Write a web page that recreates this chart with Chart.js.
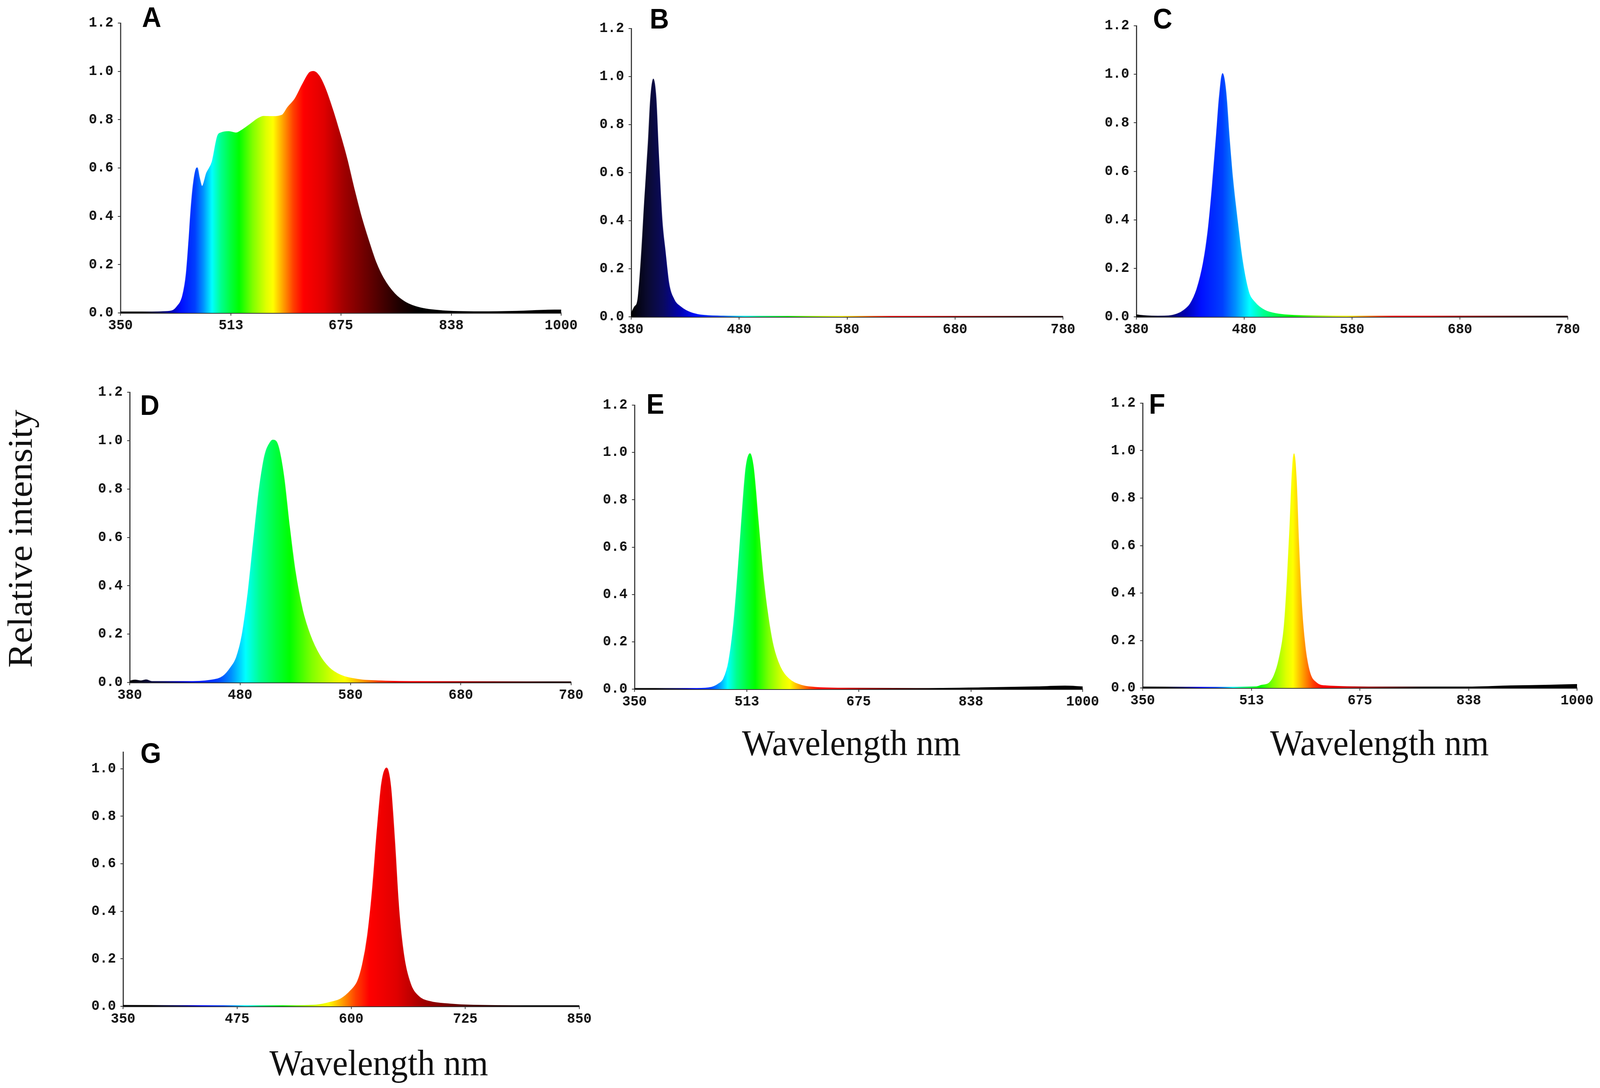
<!DOCTYPE html>
<html>
<head>
<meta charset="utf-8">
<script src="https://cdn.jsdelivr.net/npm/chart.js@4.4.1/dist/chart.umd.min.js"></script>
<style>
  html, body { margin: 0; padding: 0; background: #fff; overflow: hidden; }
  #page { position: absolute; left: 0; top: 0; width: 4317px; height: 2785px; background: #fff; transform-origin: 0 0; }
  canvas { position: absolute; }
  .tag { position: absolute; font: bold 72px "Liberation Sans", Arial, sans-serif; line-height: 1; color: #000; }
  .axt { position: absolute; font: 94px "Liberation Serif", "Times New Roman", serif; line-height: 1; color: #111; white-space: nowrap; }
</style>
</head>
<body>
<div id="page">
<div class="axt" style="left:53px; top:1379px; transform: translate(-50%,-50%) rotate(-90deg);">Relative intensity</div>
<div class="axt" style="left:2297px; top:1854px; transform: translateX(-50%);">Wavelength nm</div>
<div class="axt" style="left:3722px; top:1854px; transform: translateX(-50%);">Wavelength nm</div>
<div class="axt" style="left:1022px; top:2673px; transform: translateX(-50%);">Wavelength nm</div>
</div>

<script>
// tick values
const yTicks = [0, 0.2, 0.4, 0.6, 0.8, 1.0, 1.2]
const yTicksG = [0, 0.2, 0.4, 0.6, 0.8, 1.0]
const xTicksWide = [350, 513, 675, 838, 1000]
const xTicksVis = [380, 480, 580, 680, 780]
const xTicksG = [350, 475, 600, 725, 850]

// A - white light
const wlA = [350, 380, 410, 425, 433, 441.6, 447, 450.8, 454.1, 457.9, 461.7, 463.3, 466, 470.4, 477, 485, 493.3, 498.7, 509.6, 520.5, 528.6, 542.2, 553, 561, 574.7, 588.4, 596.6, 607.5, 618.4, 629.3, 634.7, 642.9, 651, 661.9, 672.8, 683.7, 694.5, 705.4, 716.3, 727.2, 738, 754.3, 770.6, 792.3, 825, 880, 935, 990, 1000]
const intA = [0.004, 0.004, 0.005, 0.008, 0.025, 0.071, 0.161, 0.297, 0.434, 0.542, 0.597, 0.601, 0.565, 0.524, 0.579, 0.624, 0.733, 0.746, 0.751, 0.745, 0.756, 0.783, 0.805, 0.814, 0.813, 0.819, 0.851, 0.887, 0.946, 0.996, 1.0, 0.982, 0.937, 0.851, 0.751, 0.642, 0.515, 0.397, 0.297, 0.207, 0.143, 0.080, 0.044, 0.021, 0.009, 0.005, 0.007, 0.012, 0.012]

// B - violet
const wlB = [380, 383, 386, 389, 392.6, 395.8, 398, 400.5, 403, 405.3, 408.5, 411.6, 414.8, 419.6, 426, 435, 448, 470, 520, 600, 700, 780]
const intB = [0.014, 0.041, 0.068, 0.224, 0.497, 0.725, 0.908, 0.99, 0.908, 0.68, 0.406, 0.269, 0.141, 0.073, 0.041, 0.018, 0.006, 0.003, 0.002, 0.002, 0.002, 0.002]

// C - blue
const wlC = [380, 390, 400, 410, 418, 424, 430, 436, 442, 446.5, 450.4, 454, 457, 460, 463, 466, 469, 473.5, 478, 484, 490, 499, 511, 535, 600, 700, 780]
const intC = [0.008, 0.004, 0.003, 0.004, 0.012, 0.027, 0.054, 0.113, 0.221, 0.357, 0.538, 0.737, 0.909, 1.003, 0.927, 0.746, 0.583, 0.402, 0.24, 0.104, 0.059, 0.027, 0.012, 0.005, 0.003, 0.003, 0.003]

// D - green
const wlD = [380, 385, 390, 395, 400, 434, 454, 464.6, 471.5, 476.6, 481.8, 486.9, 492, 497.2, 502.3, 507.5, 509.9, 514.4, 519.5, 524.6, 529.8, 536.6, 543.5, 552, 560.6, 570.9, 588, 605, 640, 740, 780]
const intD = [0.006, 0.01, 0.007, 0.011, 0.004, 0.004, 0.01, 0.026, 0.062, 0.103, 0.196, 0.361, 0.577, 0.793, 0.937, 0.994, 1.002, 0.979, 0.855, 0.649, 0.464, 0.299, 0.196, 0.113, 0.062, 0.031, 0.012, 0.007, 0.004, 0.003, 0.003]

// E - green
const wlE = [350, 400, 440, 461.8, 471.8, 479.2, 486.6, 494, 500.5, 506.5, 511.6, 517.5, 522.5, 529, 536.4, 543.9, 551.3, 561.3, 573.7, 591, 611, 660, 760, 860, 934, 974, 1000]
const intE = [0.003, 0.003, 0.003, 0.008, 0.022, 0.044, 0.116, 0.282, 0.514, 0.758, 0.935, 0.995, 0.935, 0.724, 0.481, 0.304, 0.182, 0.094, 0.044, 0.017, 0.008, 0.004, 0.003, 0.006, 0.01, 0.013, 0.01]

// F - yellow
const wlF = [350, 450, 520, 527.5, 539.7, 547, 554, 561.6, 566.3, 570.2, 573.5, 576.5, 580, 583.3, 588, 593, 600, 610, 624.5, 700, 830, 900, 960, 1000]
const intF = [0.004, 0.003, 0.005, 0.011, 0.022, 0.055, 0.121, 0.254, 0.452, 0.673, 0.893, 0.987, 0.871, 0.618, 0.342, 0.176, 0.066, 0.022, 0.009, 0.004, 0.004, 0.009, 0.012, 0.015]

// G - red
const wlG = [350, 450, 540, 563, 578, 588.8, 599.6, 607, 612.3, 617.7, 623.2, 628.7, 633.4, 638.8, 643.2, 647.5, 652.2, 657.7, 664.9, 674, 686.7, 708.4, 734, 800, 850]
const intG = [0.004, 0.003, 0.003, 0.006, 0.018, 0.032, 0.067, 0.106, 0.175, 0.292, 0.488, 0.753, 0.939, 1.003, 0.929, 0.704, 0.41, 0.214, 0.096, 0.042, 0.02, 0.01, 0.005, 0.003, 0.003]

// spectrum colours used for the fill
const stopWl = [380, 395, 410, 425, 440, 460, 472, 485, 498, 512, 525, 545, 565, 575, 590, 605, 620, 650, 680, 720, 760, 790]
const stopColor = ['#000000', '#0a0a30', '#0a0a60', '#0000b0', '#0010ff', '#0040ff', '#0090ff', '#00ffff', '#00ff90', '#00ff40', '#00ff00', '#80ff00', '#e0ff00', '#ffff00', '#ffa000', '#ff4000', '#ff0000', '#e00000', '#a00000', '#600000', '#200000', '#000000']

// panel layout: plot box [left, top, right, bottom] in page px, letter position
let panels = [
  {tag: 'A', wl: wlA, val: intA, xMin: 350, xMax: 1000, xTicks: xTicksWide, yMax: 1.2, yT: yTicks, box: [325, 59, 1514, 801], tagPos: [383, 8]},
  {tag: 'B', wl: wlB, val: intB, xMin: 380, xMax: 780, xTicks: xTicksVis, yMax: 1.2, yT: yTicks, box: [1703, 73, 2868, 811], tagPos: [1753, 12]},
  {tag: 'C', wl: wlC, val: intC, xMin: 380, xMax: 780, xTicks: xTicksVis, yMax: 1.2, yT: yTicks, box: [3066, 66, 4230, 811], tagPos: [3111, 12]},
  {tag: 'D', wl: wlD, val: intD, xMin: 380, xMax: 780, xTicks: xTicksVis, yMax: 1.2, yT: yTicks, box: [350, 1004, 1541, 1747], tagPos: [378, 1001]},
  {tag: 'E', wl: wlE, val: intE, xMin: 350, xMax: 1000, xTicks: xTicksWide, yMax: 1.2, yT: yTicks, box: [1712, 1037, 2921, 1764], tagPos: [1744, 998]},
  {tag: 'F', wl: wlF, val: intF, xMin: 350, xMax: 1000, xTicks: xTicksWide, yMax: 1.2, yT: yTicks, box: [3083, 1032, 4255, 1761], tagPos: [3100, 998]},
  {tag: 'G', wl: wlG, val: intG, xMin: 350, xMax: 850, xTicks: xTicksG, yMax: 1.07, yT: yTicksG, box: [332, 1925, 1563, 2576], tagPos: [379, 1892]}
]

const Y_W = 120, X_H = 60, PAD_T = 40, PAD_R = 60

// fit the 4317x2785 page into whatever viewport we really get
let page = document.getElementById('page')
let sx = window.innerWidth / 4317, sy = window.innerHeight / 2785
page.style.transform = 'scale(' + sx + ',' + sy + ')'

function spectrumFill(context) {
  let chart = context.chart
  if(!chart.chartArea) return 'rgba(0,0,0,0)'
  let xs = chart.scales.x
  let x0 = xs.getPixelForValue(xs.min), x1 = xs.getPixelForValue(xs.max)
  let g = chart.ctx.createLinearGradient(x0, 0, x1, 0)
  for(let i = 0; i < stopWl.length; i++) {
    let t = (xs.getPixelForValue(stopWl[i]) - x0) / (x1 - x0)
    if(t >= 0 && t <= 1) g.addColorStop(t, stopColor[i])
  }
  return g
}

const tickFont = {family: '"Liberation Mono", "DejaVu Sans Mono", monospace', size: 37, weight: 'bold'}

for(let p of panels) {
  let [l, t, r, b] = p.box
  let canvas = document.createElement('canvas')
  canvas.width = (r - l) + Y_W + PAD_R
  canvas.height = (b - t) + PAD_T + X_H
  canvas.style.left = (l - Y_W) + 'px'
  canvas.style.top = (t - PAD_T) + 'px'
  page.appendChild(canvas)

  let tag = document.createElement('div')
  tag.className = 'tag'
  tag.textContent = p.tag
  tag.style.left = p.tagPos[0] + 'px'
  tag.style.top = p.tagPos[1] + 'px'
  page.appendChild(tag)

  new Chart(canvas.getContext('2d'), {
    type: 'line',
    data: {
      datasets: [{
        data: p.wl.map((w, i) => ({x: w, y: p.val[i]})),
        fill: 'origin',
        backgroundColor: spectrumFill,
        borderColor: spectrumFill,
        borderWidth: 2,
        pointRadius: 0,
        cubicInterpolationMode: 'monotone'
      }]
    },
    options: {
      responsive: false,
      animation: false,
      devicePixelRatio: 1,
      layout: {padding: {top: PAD_T, right: PAD_R, left: 0, bottom: 0}},
      plugins: {legend: {display: false}, tooltip: {enabled: false}},
      scales: {
        x: {
          type: 'linear', min: p.xMin, max: p.xMax, z: 1,
          border: {display: true, color: '#333', width: 3},
          grid: {display: true, drawOnChartArea: false, drawTicks: true, tickLength: 7, color: '#333', lineWidth: 2},
          ticks: {font: tickFont, color: '#111', padding: 3, maxRotation: 0, autoSkip: false, callback: v => String(v)},
          afterBuildTicks: s => { s.ticks = p.xTicks.map(v => ({value: v})) },
          afterFit: s => { s.height = X_H }
        },
        y: {
          type: 'linear', min: 0, max: p.yMax, z: 1,
          border: {display: true, color: '#333', width: 3},
          grid: {display: true, drawOnChartArea: false, drawTicks: true, tickLength: 7, color: '#333', lineWidth: 2},
          ticks: {font: tickFont, color: '#111', padding: 12, callback: v => Number(v).toFixed(1)},
          afterBuildTicks: s => { s.ticks = p.yT.map(v => ({value: v})) },
          afterFit: s => { s.width = Y_W }
        }
      }
    }
  })
}
</script>
</body>
</html>
